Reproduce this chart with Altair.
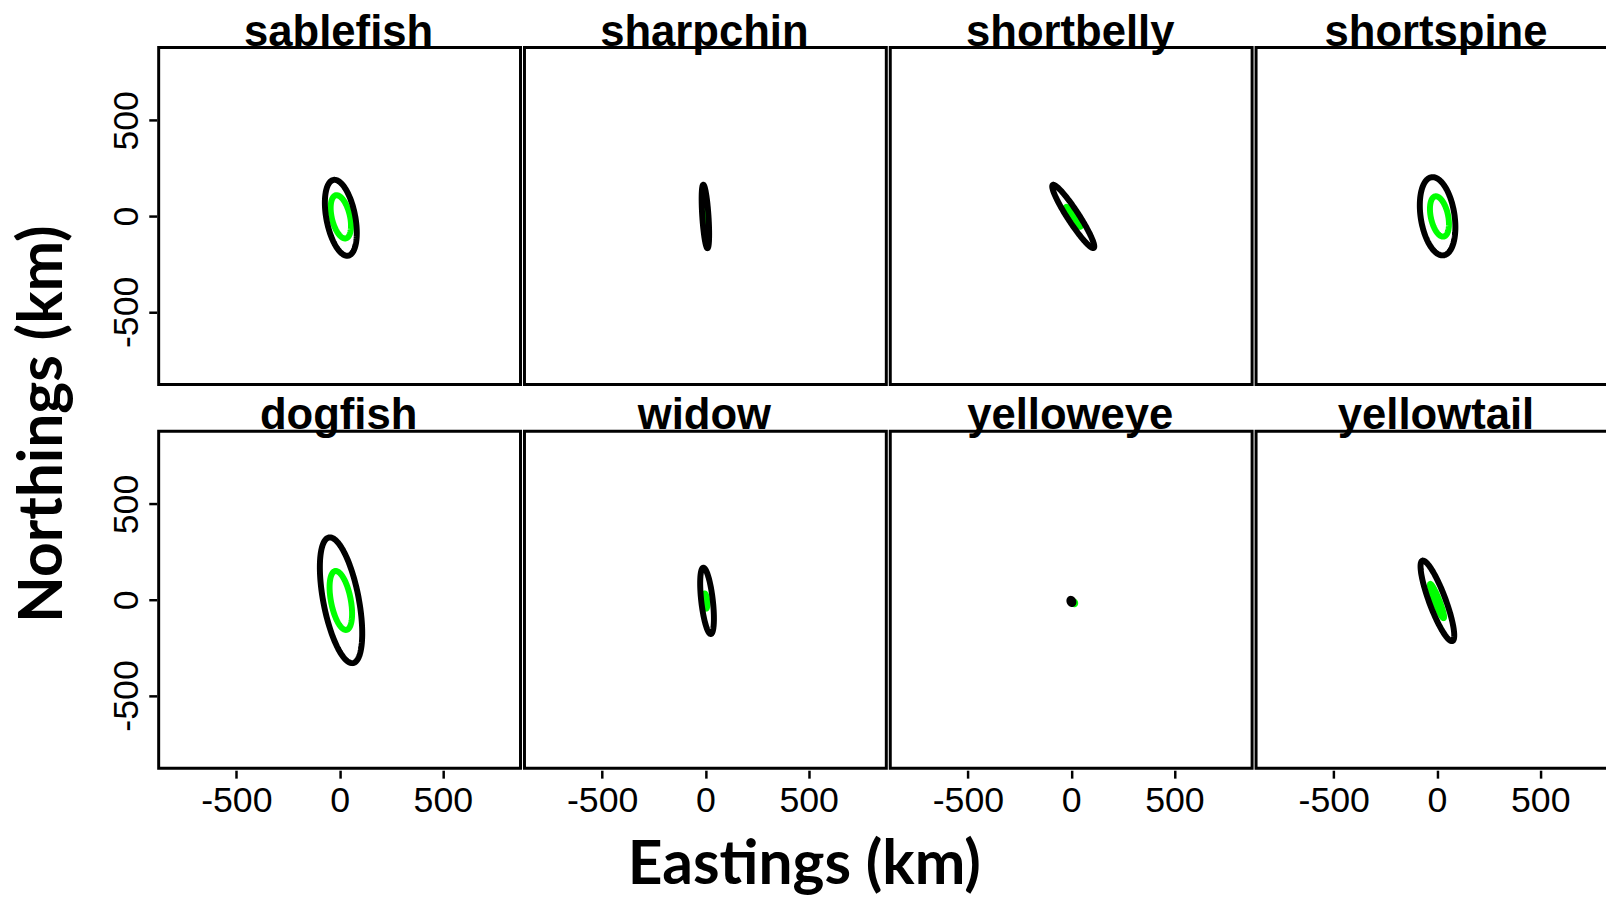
import numpy as np
import pandas as pd
import altair as alt

# ---------------- data ----------------
species = ["sablefish", "sharpchin", "shortbelly", "shortspine",
           "dogfish", "widow", "yelloweye", "yellowtail"]

# outer (black) ellipse: centre (km), semi-axes (km), tilt of major axis from vertical (deg, + = top leans west)
outer_cx = [6, 0, 10, 3, 7, 8, 1, 2]
outer_cy = [-9, -2, -2, -1, -3, -6, -9, -6]
outer_a = [201, 166, 192, 206, 333, 174, 14, 222]
outer_b = [70, 15, 28, 82, 86, 28, 9, 40]
outer_tilt = [10, 3.5, 31, 8, 10, 6, 20, 19]

# inner (green) ellipse
inner_cx = [6, 0, 10, 12, 6, 0, 14, 0]
inner_cy = [-4, 0, -4, -2, -4, -7, -16, -7]
inner_a = [115, 70, 62, 107, 156, 40, 8, 95]
inner_b = [44, 6, 12, 42, 48, 9, 5, 12]
inner_tilt = [12, 4, 34, 11, 10, 5, 20, 20]

tick_values = [-500, 0, 500]

# ---------------- build outline table ----------------
t = np.linspace(0, 2 * np.pi, 145)
rows = []
for ring, cx, cy, A, B, T in [("inner", inner_cx, inner_cy, inner_a, inner_b, inner_tilt),
                              ("outer", outer_cx, outer_cy, outer_a, outer_b, outer_tilt)]:
    for k, sp in enumerate(species):
        phi = np.deg2rad(T[k])
        ux, uy = -np.sin(phi), np.cos(phi)
        vx, vy = np.cos(phi), np.sin(phi)
        for i, tt in enumerate(t):
            rows.append({
                "species": sp, "ring": ring, "i": i,
                "x": cx[k] + A[k] * np.cos(tt) * ux + B[k] * np.sin(tt) * vx,
                "y": cy[k] + A[k] * np.cos(tt) * uy + B[k] * np.sin(tt) * vy,
            })
df = pd.DataFrame(rows)

W, H = 365, 340

xenc = alt.X("x:Q", scale=alt.Scale(domain=[-876, 876], nice=False, zero=False),
             axis=alt.Axis(values=tick_values, title=None, labelExpr="'' + datum.value",
                           labelPadding=6))
yenc = alt.Y("y:Q", scale=alt.Scale(domain=[-880, 880], nice=False, zero=False),
             axis=alt.Axis(values=tick_values, title=None, labelExpr="'' + datum.value",
                           labelAngle=270, labelAlign="center", labelBaseline="alphabetic",
                           labelPadding=11))

green = alt.Chart().transform_filter(alt.datum.ring == "inner").mark_line(
    color="#00ff00", strokeWidth=6, strokeJoin="round", strokeCap="round"
).encode(x=xenc, y=yenc, order="i:Q")

black = alt.Chart().transform_filter(alt.datum.ring == "outer").mark_line(
    color="#000000", strokeWidth=6, strokeJoin="round", strokeCap="round"
).encode(x=xenc, y=yenc, order="i:Q")

label = alt.Chart().transform_filter(
    (alt.datum.ring == "outer") & (alt.datum.i == 0)
).mark_text(
    font="Liberation Sans", fontSize=44, fontWeight="bold", color="black",
    align="center", baseline="top"
).encode(text="species:N", x=alt.value(W / 2 - 1), y=alt.value(-37))

panel = alt.layer(green, black, label, data=df).properties(width=W, height=H)

grid = panel.facet(
    facet=alt.Facet("species:N", sort=species, title=None,
                    header=alt.Header(labels=False, title=None, labelFontSize=0,
                                      labelPadding=0, labelExpr="''")),
    columns=4,
    spacing={"row": 6, "column": 0},
).properties(
    title=alt.TitleParams("Northings (km)", orient="left", anchor="middle",
                          font="Lato", fontSize=61, fontWeight="bold", color="black",
                          offset=35, dx=-10)
)

chart = alt.vconcat(grid).properties(
    title=alt.TitleParams("Eastings (km)", orient="bottom", anchor="middle",
                          font="Lato", fontSize=61, fontWeight="bold", color="black",
                          offset=18, dx=-12),
    padding={"left": 4, "top": -3, "right": -14, "bottom": -2},
).configure_view(
    stroke="black", strokeWidth=3
).configure_axis(
    grid=False, domain=False, tickColor="black", tickWidth=2.5, tickSize=8,
    labelFont="Liberation Sans", labelFontSize=36, labelColor="black",
).configure_header(
    labels=False, labelFontSize=0, labelPadding=0
).configure_headerFacet(
    labels=False, labelFontSize=0, labelPadding=0
)

chart.save("out.html", embed_options={"renderer": "svg", "actions": False})
